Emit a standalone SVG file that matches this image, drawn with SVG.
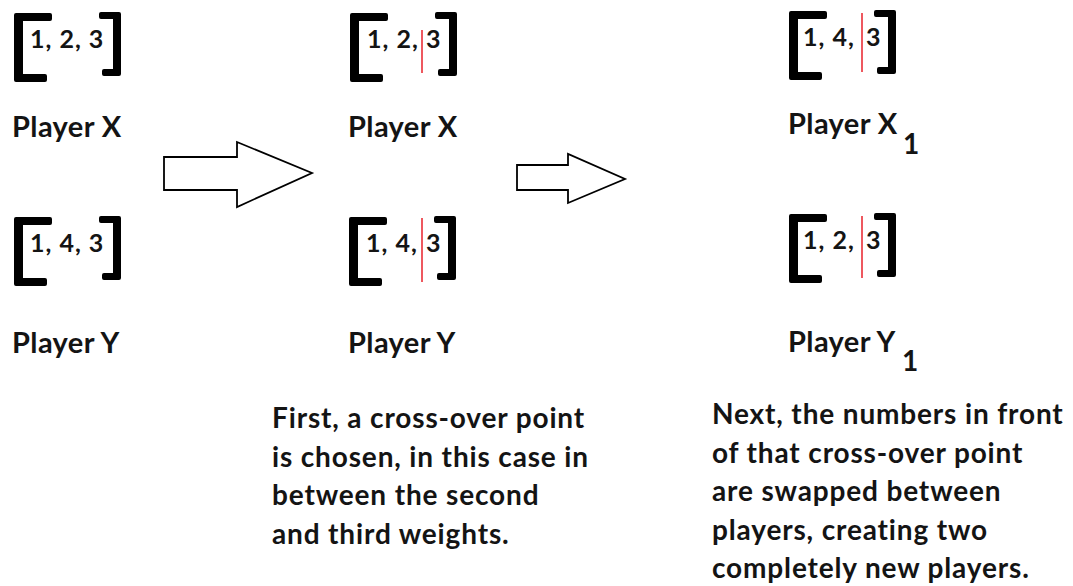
<svg xmlns="http://www.w3.org/2000/svg" xmlns:xlink="http://www.w3.org/1999/xlink" width="1073" height="586" viewBox="0 0 1073 586">
<style>
text{font-family:Lato,"Open Sans","Liberation Sans",sans-serif;font-weight:700;fill:#141414}
.num{font-size:25px;letter-spacing:1px}
.lbl{font-size:29px;letter-spacing:0.4px}
.sub{font-size:28px}
.para{font-size:28px;letter-spacing:0.85px}
.cut{stroke:#e8202a;stroke-width:1.5}
.arrow{fill:#fff;stroke:#000;stroke-width:1.8;stroke-linejoin:miter}
</style>
<defs>
<path id="brk" fill="#000" d="M2,0 H36 Q38,0 38,2 V6 Q38,8 36,8 H9 V61 H31 Q33,61 33,63 V67 Q33,69 31,69 H2 Q0,69 0,67 V2 Q0,0 2,0 Z M87,-1 H105 Q107,-1 107,1 V61 Q107,63 105,63 H90 Q88,63 88,61 V58 Q88,56 90,56 H99 V6 H87 Q85,6 85,4 V1 Q85,-1 87,-1 Z"/>
</defs>
<g id="x-original">
<use xlink:href="#brk" transform="translate(14,13)"/>
<text class="num" x="30" y="48">1, 2, 3</text>
<text class="lbl" x="12" y="137">Player X</text>
</g>
<g id="y-original">
<use xlink:href="#brk" transform="translate(14,217)"/>
<text class="num" x="30" y="252">1, 4, 3</text>
<text class="lbl" x="12" y="353">Player Y</text>
</g>
<g id="x-cut">
<use xlink:href="#brk" transform="translate(350,13)"/>
<text class="num" x="367" y="48">1, 2,</text>
<text class="num" x="426" y="48">3</text>
<line class="cut" x1="422" y1="30" x2="422" y2="73"/>
<text class="lbl" x="348" y="137">Player X</text>
</g>
<g id="y-cut">
<use xlink:href="#brk" transform="translate(349,217)"/>
<text class="num" x="366" y="252">1, 4,</text>
<text class="num" x="426" y="252">3</text>
<line class="cut" x1="422" y1="218" x2="422" y2="282"/>
<text class="lbl" x="348" y="353">Player Y</text>
</g>
<g id="x-new">
<use xlink:href="#brk" transform="translate(789,11)"/>
<text class="num" x="803" y="46">1, 4,</text>
<text class="num" x="866" y="46">3</text>
<line class="cut" x1="862" y1="13" x2="862" y2="72"/>
<text class="lbl" x="788" y="134">Player X</text>
<text class="sub" x="903" y="154">1</text>
</g>
<g id="y-new">
<use xlink:href="#brk" transform="translate(789,214)"/>
<text class="num" x="803" y="249">1, 2,</text>
<text class="num" x="866" y="249">3</text>
<line class="cut" x1="862" y1="216" x2="862" y2="278"/>
<text class="lbl" x="788" y="352">Player Y</text>
<text class="sub" x="902" y="371">1</text>
</g>
<g id="note-first">
<text class="para" x="272" y="428">First, a cross-over point</text>
<text class="para" x="272" y="466.5">is chosen, in this case in</text>
<text class="para" x="272" y="505">between the second</text>
<text class="para" x="272" y="543.5">and third weights.</text>
</g>
<g id="note-next">
<text class="para" x="712" y="424">Next, the numbers in front</text>
<text class="para" x="712" y="462.5">of that cross-over point</text>
<text class="para" x="712" y="501">are swapped between</text>
<text class="para" x="712" y="539.5">players, creating two</text>
<text class="para" x="712" y="578">completely new players.</text>
</g>
<g id="connectors">
<polygon class="arrow" points="164,157 237,157 237,142 312,173 237,207 237,190 164,190"/>
<polygon class="arrow" points="517,165 568,165 568,154 625,179 568,203 568,190 517,190"/>
</g>
</svg>
